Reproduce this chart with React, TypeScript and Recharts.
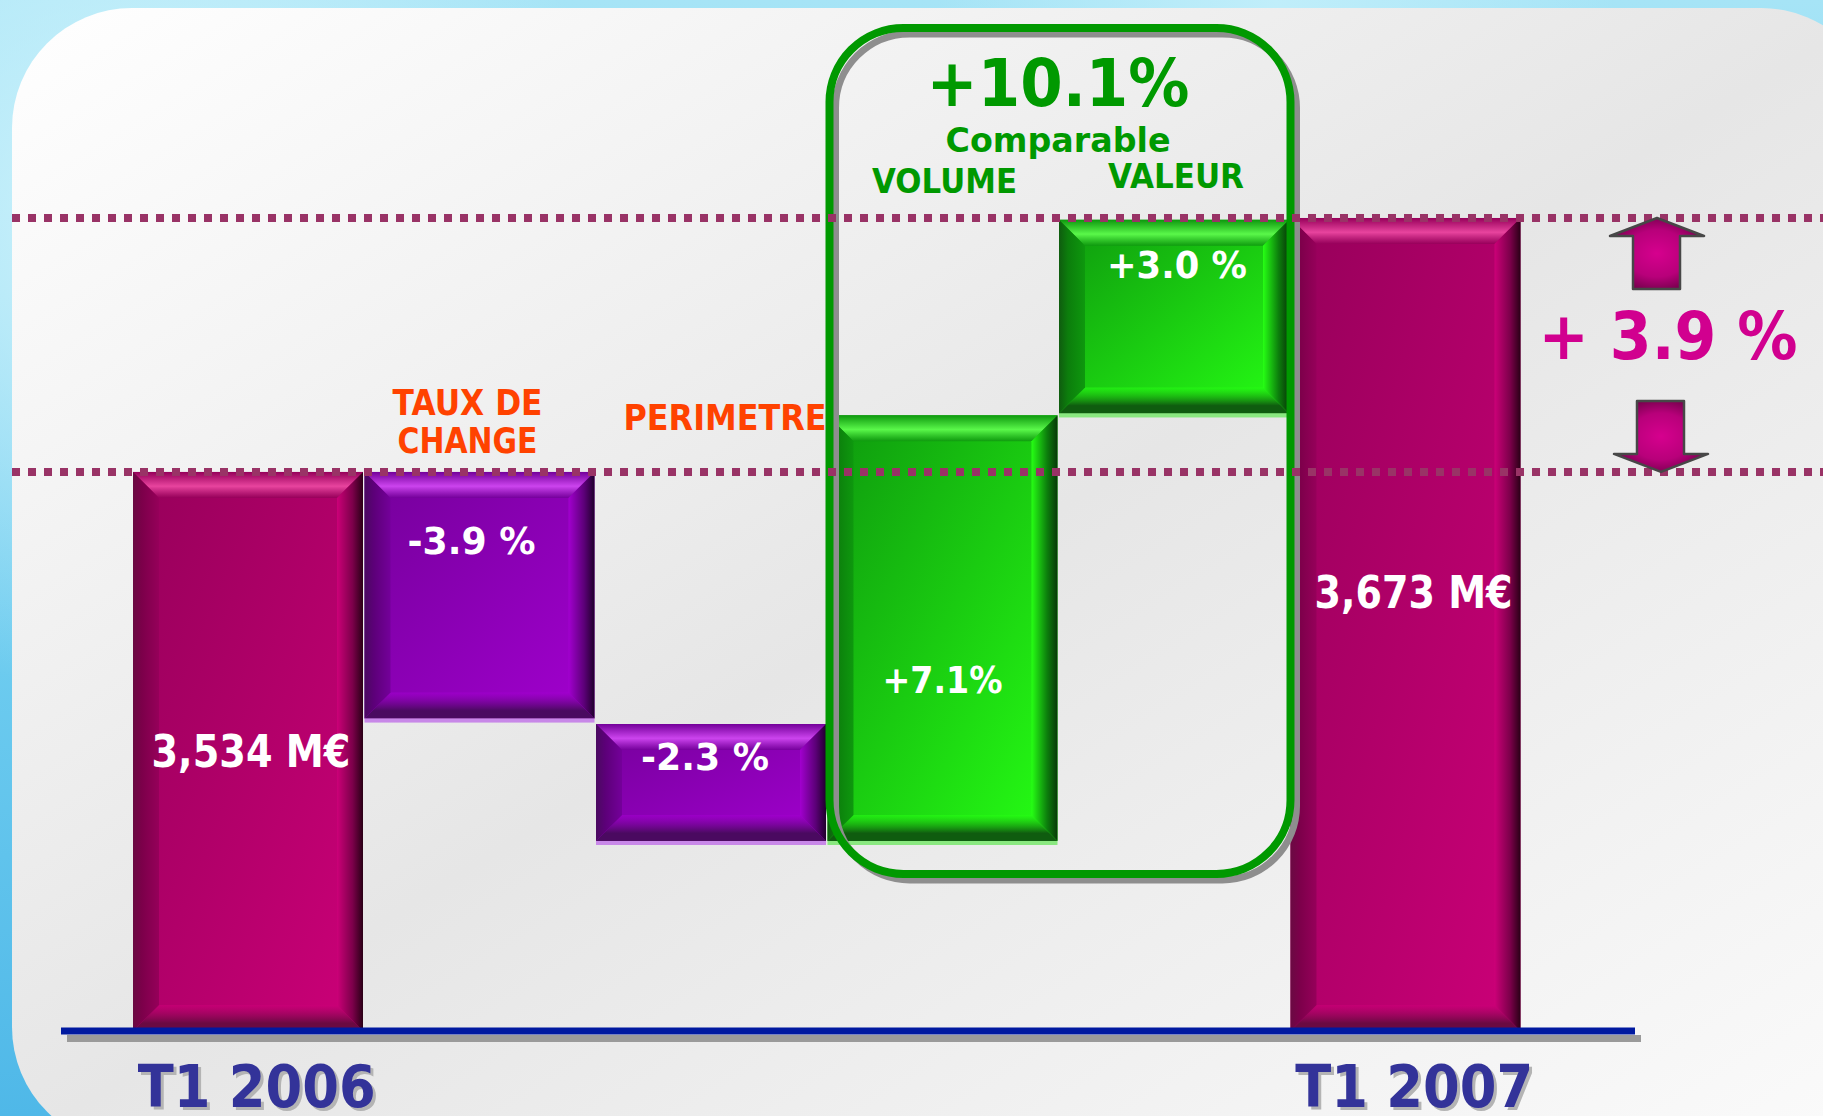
import React from 'react';
import { BarChart, Bar, XAxis, YAxis, ReferenceLine, ReferenceArea, LabelList } from 'recharts';

// categories of the bridge, first and last are totals
const categories = ['T1 2006', 'TAUX DE CHANGE', 'PERIMETRE', 'VOLUME', 'VALEUR', 'T1 2007'];
const tickLabels = ['T1 2006', '', '', '', '', 'T1 2007'];
// floating bars in M€ : bottom / top of each block
const lowValues = [3228, 3399, 3332, 3332, 3566, 3228];
const highValues = [3534, 3534, 3396, 3565, 3672, 3673];
const barLabels = ['3,534 M€', '-3.9 %', '-2.3 %', '+7.1%', '+3.0 %', '3,673 M€'];
const headerLines = [[], ['TAUX DE', 'CHANGE'], ['PERIMETRE'], ['VOLUME'], ['VALEUR'], []];

const startValue = 3534;
const endValue = 3673;
const growthLabel = '+ 3.9 %';
const comparableLabel = '+10.1%';
const comparableTitle = 'Comparable';
const comparableLow = 3314;
const comparableHigh = 3777;
const axisMin = 3228;
const axisMax = 3783;

const rows = categories.map((name, i) => ({
  name,
  range: [lowValues[i], highValues[i]],
  label: barLabels[i],
}));

// ---- styling ----
const FONT = "'DejaVu Sans', Verdana, sans-serif";
const tone = ['mag', 'pur', 'pur', 'grn', 'grn', 'mag'];
const labelFrac = [0.5, 0.28, 0.28, 0.62, 0.23, 0.46];
const labelSize = [44, 37, 37, 37, 37, 44];
const labelLen = [199, 128, 128, 120, 140, 198];
const labelDx = [3, -8, -6, 0, 3, 8];
const headerBaselines = [[], [415, 453], [430], [193], [188], []];
const headerLen = [[], [150, 140], [203], [145], [136], []];
const headerDx = [0, -12, 14, 2, 2, 0];
const headerSize = [0, 35, 36, 34, 34, 0];
const headerColor = ['', '#ff4200', '#ff4200', '#009900', '#009900', ''];

const palettes: Record<string, any> = {
  mag: { a: '#96005a', b: '#cc0078', hi: '#e8449e', lo: '#6a0a42', edge: '#2a0016', side: '#7c004a', under: '#e070b0' },
  pur: { a: '#74009a', b: '#a200cf', hi: '#cc44ee', lo: '#4a0a60', edge: '#20002c', side: '#5c0078', under: '#c888e8' },
  grn: { a: '#0e980e', b: '#26ff14', hi: '#5af84a', lo: '#0f5c0f', edge: '#083808', side: '#0c7e0c', under: '#8ae880' },
};

// bold text squeezed to the measured width, to get the narrow look of the original face
const T = ({ x, y, size, len, fill, children, anchor = 'middle' }: any) => (
  <text x={x} y={y} textAnchor={anchor} fill={fill} fontSize={size} fontWeight="bold" fontFamily={FONT}
    textLength={len} lengthAdjust="spacingAndGlyphs">{children}</text>
);

const BevelBar = (props: any) => {
  const { x, y, width, height, index } = props;
  if (!width || !height) return null;
  const p = palettes[tone[index]];
  const b = Math.min(26, Math.abs(height) / 3);
  const id = `bev${index}`;
  const r = x + width;
  const bt = y + height;
  return (
    <g>
      <defs>
        <linearGradient id={`${id}f`} x1="0" y1="0" x2="1" y2="1">
          <stop offset="0" stopColor={p.a} />
          <stop offset="1" stopColor={p.b} />
        </linearGradient>
        <linearGradient id={`${id}t`} x1="0" y1="0" x2="0" y2="1">
          <stop offset="0" stopColor={p.a} />
          <stop offset="0.55" stopColor={p.hi} />
          <stop offset="1" stopColor={p.a} stopOpacity={0.9} />
        </linearGradient>
        <linearGradient id={`${id}b`} x1="0" y1="0" x2="0" y2="1">
          <stop offset="0" stopColor={p.b} stopOpacity={0.6} />
          <stop offset="0.7" stopColor={p.lo} />
          <stop offset="1" stopColor={p.lo} />
        </linearGradient>
        <linearGradient id={`${id}l`} x1="0" y1="0" x2="1" y2="0">
          <stop offset="0" stopColor={p.lo} />
          <stop offset="0.35" stopColor={p.side} />
          <stop offset="1" stopColor={p.a} />
        </linearGradient>
        <linearGradient id={`${id}r`} x1="0" y1="0" x2="1" y2="0">
          <stop offset="0" stopColor={p.b} />
          <stop offset="0.6" stopColor={p.side} />
          <stop offset="1" stopColor={p.edge} />
        </linearGradient>
      </defs>
      <rect x={x} y={y} width={width} height={height} fill={`url(#${id}f)`} />
      <polygon points={`${x},${y} ${r},${y} ${r - b},${y + b} ${x + b},${y + b}`} fill={`url(#${id}t)`} />
      <polygon points={`${x},${bt} ${r},${bt} ${r - b},${bt - b} ${x + b},${bt - b}`} fill={`url(#${id}b)`} />
      <polygon points={`${x},${y} ${x + b},${y + b} ${x + b},${bt - b} ${x},${bt}`} fill={`url(#${id}l)`} />
      <polygon points={`${r},${y} ${r - b},${y + b} ${r - b},${bt - b} ${r},${bt}`} fill={`url(#${id}r)`} />
      <rect x={x} y={bt} width={width} height={4} fill={p.under} />
    </g>
  );
};

const renderLabel = (props: any) => {
  const vb = props.viewBox ?? props;
  const idx = barLabels.indexOf(props.value);
  if (idx < 0) return null;
  const top = Math.min(vb.y, vb.y + vb.height);
  const h = Math.abs(vb.height);
  const cx = vb.x + vb.width / 2;
  const fs = labelSize[idx];
  return (
    <g>
      <T x={cx + labelDx[idx]} y={top + h * labelFrac[idx] + fs * 0.36} size={fs} len={labelLen[idx]} fill="#ffffff">{props.value}</T>
      {headerLines[idx].map((line, k) => (
        <T key={k} x={cx + headerDx[idx]} y={headerBaselines[idx][k]} size={headerSize[idx]} len={headerLen[idx][k]}
          fill={headerColor[idx]}>{line}</T>
      ))}
    </g>
  );
};

const AxisTick = (props: any) => {
  const { x, y, payload } = props;
  const i = categories.indexOf(payload.value);
  const t = tickLabels[i];
  if (!t) return null;
  return (
    <g>
      <T x={x + 12} y={y + 79} size={58} len={238} fill="#b4b4b4">{t}</T>
      <T x={x + 9} y={y + 76} size={58} len={238} fill="#333399">{t}</T>
    </g>
  );
};

const ArrowDefs = () => (
  <defs>
    <radialGradient id="arrowFill" cx="0.5" cy="0.5" r="0.6">
      <stop offset="0" stopColor="#d6008e" />
      <stop offset="0.55" stopColor="#b8007a" />
      <stop offset="1" stopColor="#640040" />
    </radialGradient>
  </defs>
);

const Dotted = ({ y }: { y: number }) => (
  <line x1={12} x2={1823} y1={y} y2={y} stroke="#993366" strokeWidth={8} strokeDasharray="8 8" />
);

const TopLine = (props: any) => {
  const y = props.y1;
  const cx = 1657;
  return (
    <g>
      <ArrowDefs />
      <Dotted y={y} />
      <polygon
        points={`${cx},${y} ${cx + 47},${y + 18} ${cx + 23},${y + 18} ${cx + 23},${y + 71} ${cx - 24},${y + 71} ${cx - 24},${y + 18} ${cx - 47},${y + 18}`}
        fill="url(#arrowFill)" stroke="#474747" strokeWidth={2.5} strokeLinejoin="round" />
    </g>
  );
};

const BottomLine = (props: any) => {
  const y = props.y1;
  const cx = 1661;
  return (
    <g>
      <Dotted y={y} />
      <polygon
        points={`${cx},${y} ${cx + 47},${y - 18} ${cx + 23},${y - 18} ${cx + 23},${y - 71} ${cx - 24},${y - 71} ${cx - 24},${y - 18} ${cx - 47},${y - 18}`}
        fill="url(#arrowFill)" stroke="#474747" strokeWidth={2.5} strokeLinejoin="round" />
      <T x={1668} y={y - 113} size={66} len={259} fill="#d1008f">{growthLabel}</T>
    </g>
  );
};

const AxisShadow = (props: any) => (
  <rect x={props.x1 + 6} y={props.y1 + 4} width={props.x2 - props.x1} height={7} fill="#9a9a9a" />
);

const ComparableBox = (props: any) => {
  const { x, y, width, height } = props;
  const cx = x + width / 2;
  return (
    <g>
      <rect x={x + 9} y={y + 6} width={width - 2} height={height} rx={74} fill="none" stroke="#8e8e8e" strokeWidth={7} />
      <rect x={x + 3} y={y} width={width - 2} height={height} rx={74} fill="none" stroke="#009900" strokeWidth={8} />
      <T x={cx} y={y + 78} size={65} len={263} fill="#009900">{comparableLabel}</T>
      <T x={cx} y={y + 124} size={34} len={225} fill="#009900">{comparableTitle}</T>
    </g>
  );
};

export default function App() {
  return (
    <div style={{
      position: 'absolute', left: 0, top: 0, width: 1823, height: 1116, overflow: 'hidden',
      background: 'radial-gradient(circle at 8% 20%, #d2f4fc 0, rgba(210,244,252,0) 25%), radial-gradient(circle at 70% 0%, #c0eefa 0, rgba(192,238,250,0) 20%), linear-gradient(180deg, #a6e4f6 0%, #6ccbef 60%, #4fb8e8 100%)',
    }}>
      <div style={{
        position: 'absolute', left: 12, top: 8, width: 1869, height: 1139, borderRadius: 120,
        background: 'linear-gradient(to bottom right, #ffffff 0%, #e6e6e6 50%, #fbfbfb 100%)',
      }} />
      <div style={{ position: 'absolute', left: 0, top: 0 }}>
        <BarChart width={1823} height={1116} data={rows} margin={{ top: 17, right: 188, left: 61, bottom: 0 }} barCategoryGap={1}>
          <XAxis dataKey="name" height={85} interval={0} tickLine={false} tickSize={0} tickMargin={0}
            axisLine={{ stroke: '#0019a0', strokeWidth: 7 }} padding={{ left: 71, right: 114 }} tick={<AxisTick />} />
          <YAxis hide width={0} type="number" domain={[axisMin, axisMax]} allowDataOverflow />
          <ReferenceLine y={axisMin} shape={AxisShadow} />
          <Bar dataKey="range" isAnimationActive={false} shape={BevelBar}>
            <LabelList dataKey="label" content={renderLabel} />
          </Bar>
          <ReferenceArea x1="VOLUME" x2="VALEUR" y1={comparableLow} y2={comparableHigh} ifOverflow="visible"
            shape={ComparableBox} zIndex={700} />
          <ReferenceLine y={endValue} shape={TopLine} zIndex={710} />
          <ReferenceLine y={startValue} shape={BottomLine} zIndex={710} />
        </BarChart>
      </div>
    </div>
  );
}
